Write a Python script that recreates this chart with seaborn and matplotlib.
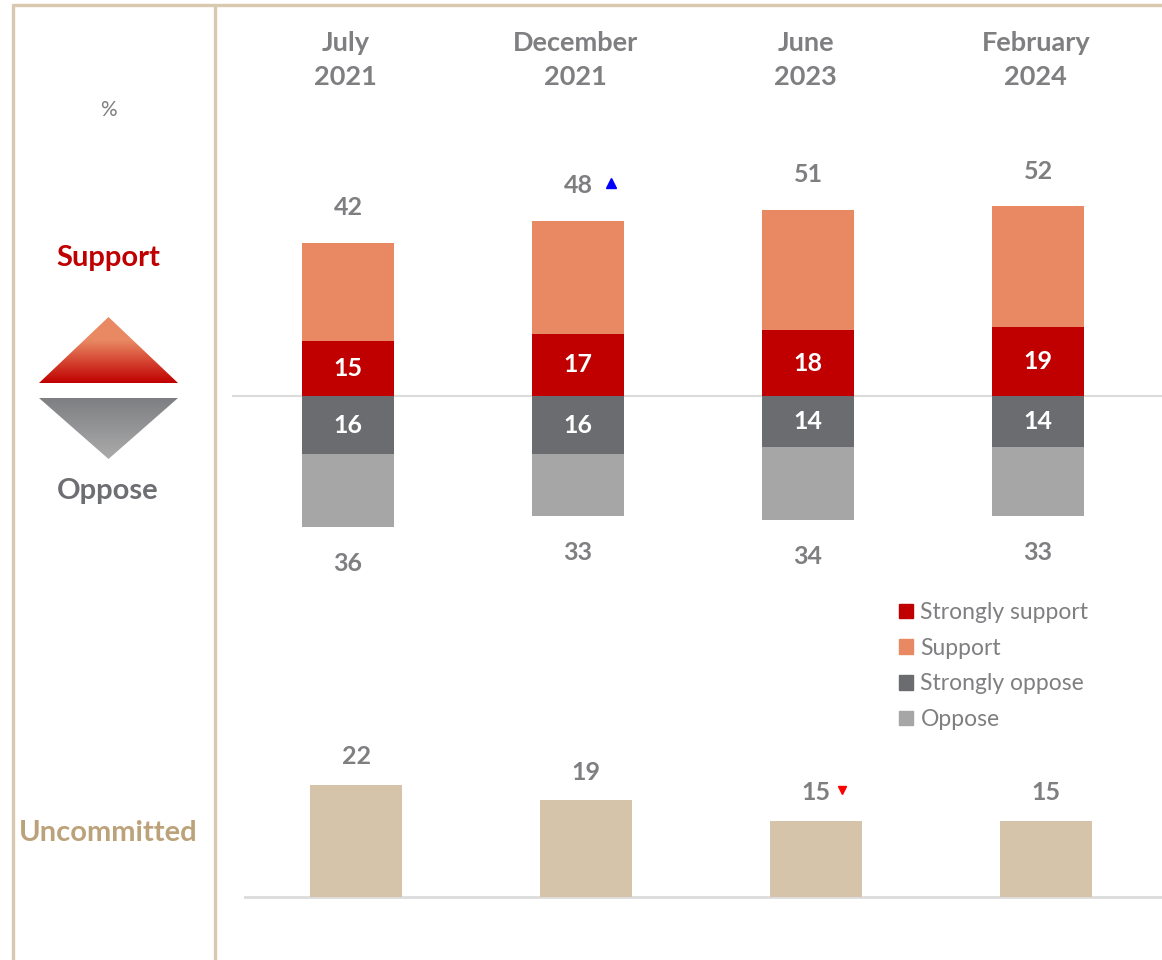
import numpy as np
import pandas as pd
import matplotlib.pyplot as plt
import matplotlib.transforms as mtransforms
from matplotlib.patches import Patch, Polygon
from matplotlib.colors import to_rgb
import seaborn as sns

# Data
periods = ["July\n2021", "December\n2021", "June\n2023", "February\n2024"]
support_total = [42, 48, 51, 52]
strongly_support = [15, 17, 18, 19]
oppose_total = [36, 33, 34, 33]
strongly_oppose = [16, 16, 14, 14]
uncommitted = [22, 19, 15, 15]
support_change = [None, "up", None, None]
uncommitted_change = [None, None, "down", None]

# Colours
C_STRONG_SUP = "#C00000"
C_SUP = "#E98963"
C_STRONG_OPP = "#6B6C6F"
C_OPP = "#A6A6A6"
C_UNC = "#D5C4A9"
C_TEXT = "#7F7F82"
C_FRAME = "#D9C9AE"
C_ZERO = "#DCDCDC"

sns.set_style("white")
plt.rcParams["font.family"] = ["Lato", "DejaVu Sans"]

W, H = 1162, 960
fig = plt.figure(figsize=(W / 100, H / 100), dpi=100)


def px_axes(left, top, width, height):
    return fig.add_axes([left / W, 1 - (top + height) / H, width / W, height / H])


df = pd.DataFrame({
    "period": periods,
    "support_total": support_total,
    "strongly_support": strongly_support,
    "oppose_neg": [-v for v in oppose_total],
    "strongly_oppose_neg": [-v for v in strongly_oppose],
    "uncommitted": uncommitted,
})

# Diverging support / oppose bars (overlaid: totals first, strong part on top)
ax = px_axes(232, 100, 930, 500)
for col, colour in [("support_total", C_SUP), ("strongly_support", C_STRONG_SUP),
                    ("oppose_neg", C_OPP), ("strongly_oppose_neg", C_STRONG_OPP)]:
    sns.barplot(data=df, x="period", y=col, color=colour, saturation=1,
                width=0.4, errorbar=None, linewidth=0, ax=ax)
ax.axhline(0, color=C_ZERO, lw=1.5, zorder=0)
ax.set_xlim(-0.504, 3.539)
ax.set_ylim(-55.9, 81.1)
ax.axis("off")

NUM = dict(ha="center", va="center", fontsize=18, fontweight="bold")
for i in range(len(periods)):
    ax.text(i, support_total[i] + 9.6, str(support_total[i]), color=C_TEXT, **NUM)
    ax.text(i, -oppose_total[i] - 10, str(oppose_total[i]), color=C_TEXT, **NUM)
    ax.text(i, strongly_support[i] / 2, str(strongly_support[i]), color="white", **NUM)
    ax.text(i, -strongly_oppose[i] / 2, str(strongly_oppose[i]), color="white", **NUM)
    if support_change[i] == "up":
        ax.plot(i + 0.143, support_total[i] + 10.4, marker="^", color="#0000FF", ms=7, clip_on=False)

# Period headers
head_tr = mtransforms.blended_transform_factory(ax.transData, fig.transFigure)
for i, p in enumerate(periods):
    ax.text(i - 0.01, 1 - 60 / H, p, transform=head_tr, ha="center", va="center",
            fontsize=19.5, fontweight="bold", color=C_TEXT, linespacing=1.5)

# Legend
handles = [Patch(color=c) for c in [C_STRONG_SUP, C_SUP, C_STRONG_OPP, C_OPP]]
labels = ["Strongly support", "Support", "Strongly oppose", "Oppose"]
fig.legend(handles, labels, loc="upper left", bbox_to_anchor=(890 / W, 1 - 593 / H),
           frameon=False, fontsize=16.5, labelcolor=C_TEXT, handlelength=0.6,
           handleheight=0.6, handletextpad=0.33, labelspacing=0.64, borderaxespad=0)

# Uncommitted bars
axb = px_axes(244, 740, 918, 200)
sns.barplot(data=df, x="period", y="uncommitted", color=C_UNC, saturation=1,
            width=0.4, errorbar=None, linewidth=0, ax=axb)
axb.axhline(0, color=C_ZERO, lw=2, zorder=0)
axb.set_xlim(-0.487, 3.504)
axb.set_ylim(-8.4, 30.8)
axb.axis("off")
for i in range(len(periods)):
    axb.text(i, uncommitted[i] + 5.5, str(uncommitted[i]), color=C_TEXT, **NUM)
    if uncommitted_change[i] == "down":
        axb.plot(i + 0.112, uncommitted[i] + 6.0, marker="v", color="#FF0000", ms=6, clip_on=False)

# Left-hand panel, frame and gradient arrows (pixel coordinates)
ov = fig.add_axes([0, 0, 1, 1])
ov.set_xlim(0, W)
ov.set_ylim(H, 0)
ov.axis("off")
ov.plot([12, W], [5, 5], color=C_FRAME, lw=2.4, solid_capstyle="butt")
ov.plot([13, 13], [4, H], color=C_FRAME, lw=2.4, solid_capstyle="butt")
ov.plot([215, 215], [4, H], color=C_FRAME, lw=2.4, solid_capstyle="butt")


def gradient(top_col, bottom_col, flat=0.0, n=100):
    t = np.clip((np.linspace(0, 1, n) - flat) / (1 - flat), 0, 1)[:, None]
    a, b = np.array(to_rgb(top_col)), np.array(to_rgb(bottom_col))
    return (a + (b - a) * t)[:, None, :]


up = Polygon([(39, 383), (108.5, 317), (178, 383)], closed=True, transform=ov.transData)
im = ov.imshow(gradient(C_SUP, C_STRONG_SUP, flat=0.35), extent=(39, 178, 383, 317),
               aspect="auto", origin="upper")
im.set_clip_path(up)
down = Polygon([(39, 398), (108.5, 459), (178, 398)], closed=True, transform=ov.transData)
im2 = ov.imshow(gradient("#7E7F82", "#ABABAB"), extent=(39, 178, 459, 398),
                aspect="auto", origin="upper")
im2.set_clip_path(down)
ov.set_xlim(0, W)
ov.set_ylim(H, 0)

ov.text(108, 110, "%", ha="center", va="center", fontsize=15, color=C_TEXT)
ov.text(108, 258, "Support", ha="center", va="center", fontsize=21, fontweight="bold", color=C_STRONG_SUP)
ov.text(108, 491, "Oppose", ha="center", va="center", fontsize=21, fontweight="bold", color="#6D6E71")
ov.text(108, 833, "Uncommitted", ha="center", va="center", fontsize=21, fontweight="bold", color="#BCA27A")

fig.savefig("out.png", dpi=100)
